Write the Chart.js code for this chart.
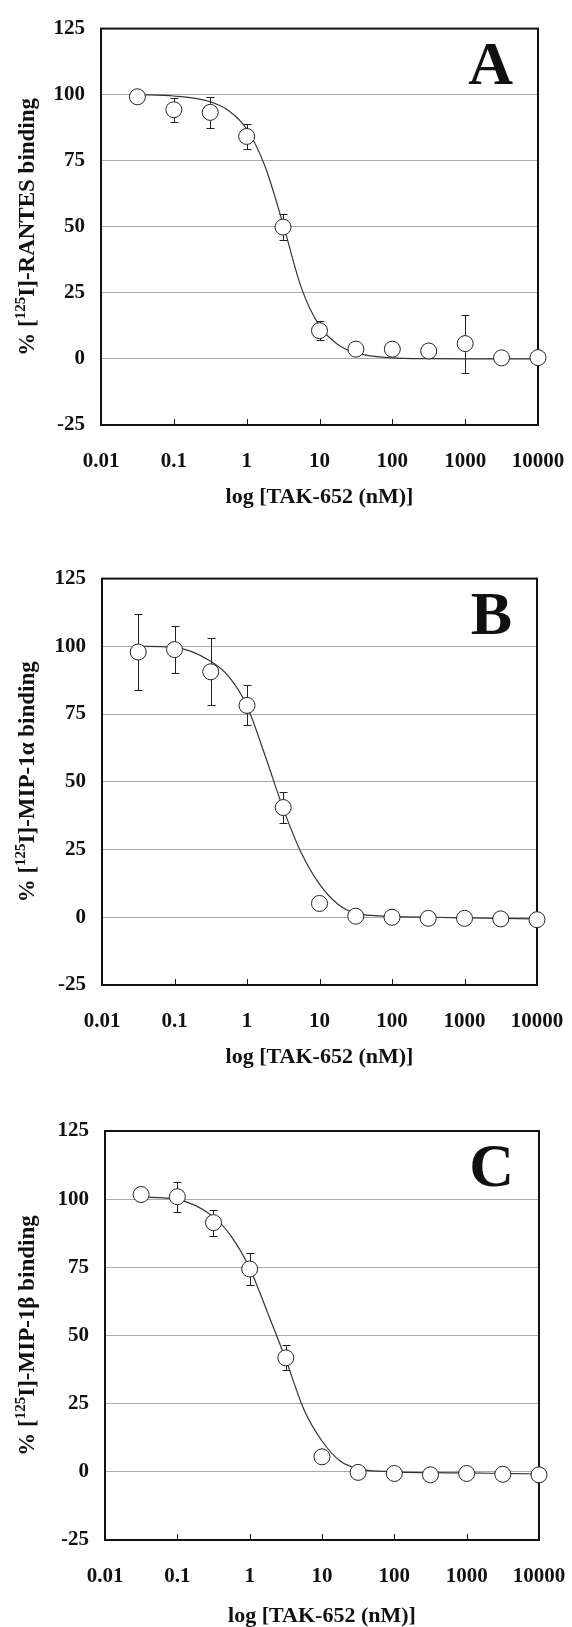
<!DOCTYPE html>
<html>
<head>
<meta charset="utf-8">
<script src="https://cdn.jsdelivr.net/npm/chart.js@4.4.0/dist/chart.umd.min.js"></script>
<style>
  html, body { margin: 0; padding: 0; background: #fff; overflow: hidden; }
  .panel { position: absolute; left: 0; width: 572px; }
</style>
</head>
<body>
<div class="panel" style="top:0px"><canvas id="panelA" width="572" height="511"></canvas></div>
<div class="panel" style="top:550px"><canvas id="panelB" width="572" height="521"></canvas></div>
<div class="panel" style="top:1100px"><canvas id="panelC" width="572" height="530"></canvas></div>
<script>
// TAK-652 concentrations (nM)
const concentrations = [0.0316, 0.1, 0.316, 1, 3.16, 10, 31.6, 100, 316, 1000, 3160, 10000];

// measured % binding and error bars
const rantesBinding = [99.2, 94.3, 93.3, 84.2, 49.9, 10.7, 3.7, 3.7, 3.0, 5.8, 0.4, 0.5];
const rantesError   = [0, 4.5, 6.0, 4.6, 4.8, 3.5, 0, 0, 0, 11.0, 0, 0];
const mip1aBinding  = [97.9, 98.8, 90.6, 78.2, 40.5, 5.1, 0.4, 0, -0.4, -0.4, -0.6, -0.9];
const mip1aError    = [14.0, 8.7, 12.4, 7.4, 5.6, 0, 0, 0, 0, 0, 0, 0];
const mip1bBinding  = [101.7, 100.9, 91.4, 74.4, 41.8, 5.5, -0.2, -0.6, -1.1, -0.6, -0.9, -1.1];
const mip1bError    = [0, 5.5, 4.8, 5.8, 4.6, 0, 0, 0, 0, 0, 0, 0];

// fitted curves
const curveX      = [0.0316, 0.1, 0.316, 0.562, 1, 1.78, 3.16, 5.62, 10, 17.8, 31.6, 100, 316, 1000, 3160, 10000];
const rantesCurve = [100, 99.5, 97.3, 94, 87, 73, 51, 27, 12.5, 5.5, 2.3, 0.4, 0.1, 0, 0, 0];
const mip1aCurve  = [100, 99.6, 94.5, 88.8, 78, 59.6, 40.1, 23.7, 12.2, 4.9, 1.5, 0.3, 0, -0.2, -0.4, -0.6];
const mip1bCurve  = [100.8, 99.9, 93.5, 86.2, 74.7, 58.2, 41.2, 22.9, 11.3, 4.0, 1.2, 0, -0.3, -0.4, -0.6, -0.8];

const xTicks = [0.01, 0.1, 1, 10, 100, 1000, 10000];
const xTickLabels = ["0.01", "0.1", "1", "10", "100", "1000", "10000"];
const yTicks = [-25, 0, 25, 50, 75, 100, 125];

const SERIF = '"Liberation Serif", "Times New Roman", serif';
const INK = '#111';

const panelDecor = {
  id: 'panelDecor',
  beforeDatasetsDraw(chart, args, o) {
    const { ctx, chartArea: a } = chart;
    const xs = chart.scales.x, ys = chart.scales.y;
    ctx.save();
    // frame
    ctx.strokeStyle = INK;
    ctx.lineWidth = 2;
    ctx.strokeRect(a.left, a.top, a.right - a.left, a.bottom - a.top);
    // inward tick marks on the x axis
    ctx.lineWidth = 1;
    ctx.beginPath();
    xTicks.slice(1, -1).forEach(v => {
      const px = Math.round(xs.getPixelForValue(v)) + 0.5;
      ctx.moveTo(px, a.bottom);
      ctx.lineTo(px, a.bottom - 6);
    });
    ctx.stroke();
    // error bars
    ctx.strokeStyle = '#222';
    ctx.beginPath();
    o.errors.forEach((e, i) => {
      if (!e) return;
      const px = Math.round(xs.getPixelForValue(concentrations[i])) + 0.5;
      const top = Math.round(ys.getPixelForValue(o.values[i] + e)) + 0.5;
      const bot = Math.round(ys.getPixelForValue(o.values[i] - e)) + 0.5;
      ctx.moveTo(px, top); ctx.lineTo(px, bot);
      ctx.moveTo(px - 4, top); ctx.lineTo(px + 4, top);
      ctx.moveTo(px - 4, bot); ctx.lineTo(px + 4, bot);
    });
    ctx.stroke();
    ctx.restore();
  },
  afterDraw(chart, args, o) {
    const { ctx, chartArea: a } = chart;
    ctx.save();
    ctx.fillStyle = INK;
    // panel letter
    ctx.font = 'bold 62px ' + SERIF;
    ctx.textAlign = 'right';
    ctx.textBaseline = 'alphabetic';
    ctx.fillText(o.letter, a.right - 25, a.top + 55);
    // y axis title with superscript
    ctx.translate(26, (a.top + a.bottom) / 2);
    ctx.rotate(-Math.PI / 2);
    const mainFont = 'bold 23px ' + SERIF, supFont = 'bold 15px ' + SERIF;
    let total = 0;
    const widths = o.yTitle.map(p => {
      ctx.font = p.sup ? supFont : mainFont;
      const w = ctx.measureText(p.text).width;
      total += w;
      return w;
    });
    let x = -total / 2;
    ctx.textAlign = 'left';
    o.yTitle.forEach((p, i) => {
      ctx.font = p.sup ? supFont : mainFont;
      ctx.fillText(p.text, x, p.sup ? -1 : 8);
      x += widths[i];
    });
    ctx.restore();
  }
};

function makePanel(id, values, errors, curve, letter, yTitle, area) {
  const canvas = document.getElementById(id);
  const H = canvas.height;
  const tickFont = { family: SERIF, size: 21, weight: 'bold' };
  return new Chart(canvas, {
    type: 'scatter',
    data: {
      datasets: [
        {
          data: concentrations.map((c, i) => ({ x: c, y: values[i] })),
          pointRadius: 8,
          pointBackgroundColor: '#fff',
          pointBorderColor: '#222',
          pointBorderWidth: 1,
          clip: false
        },
        {
          data: curveX.map((c, i) => ({ x: c, y: curve[i] })),
          showLine: true,
          pointRadius: 0,
          borderColor: '#333',
          borderWidth: 1.2,
          cubicInterpolationMode: 'monotone',
          clip: false
        }
      ]
    },
    options: {
      responsive: false,
      devicePixelRatio: 1,
      animation: false,
      layout: { padding: { left: 0, top: area.top, right: 572 - area.right, bottom: 0 } },
      plugins: {
        legend: { display: false },
        tooltip: { enabled: false },
        panelDecor: { values, errors, letter, yTitle }
      },
      scales: {
        x: {
          type: 'logarithmic',
          min: 0.01,
          max: 10000,
          afterBuildTicks: s => { s.ticks = xTicks.map(v => ({ value: v })); },
          ticks: {
            callback: (v, i) => xTickLabels[i],
            font: tickFont, color: INK, padding: 24,
            autoSkip: false, maxRotation: 0
          },
          grid: { display: false, drawTicks: false },
          border: { display: false },
          title: {
            display: true, text: 'log [TAK-652 (nM)]', color: INK,
            font: { family: SERIF, size: 22, weight: 'bold' },
            padding: { top: 0, bottom: 0 }
          },
          afterFit: s => {
            s.height = H - area.bottom;
            s.paddingLeft = 0;
            s.paddingRight = 0;
          }
        },
        y: {
          min: -25,
          max: 125,
          afterBuildTicks: s => { s.ticks = yTicks.map(v => ({ value: v })); },
          ticks: { font: tickFont, color: INK, padding: 16, callback: v => String(v) },
          grid: {
            drawTicks: false,
            lineWidth: 1,
            color: c => (c.tick && (c.tick.value === 125 || c.tick.value === -25)) ? 'rgba(0,0,0,0)' : '#a9a9a9'
          },
          border: { display: false },
          afterFit: s => { s.width = area.left; }
        }
      }
    },
    plugins: [panelDecor]
  });
}

makePanel('panelA', rantesBinding, rantesError, rantesCurve, 'A',
  [{ text: '% [' }, { text: '125', sup: true }, { text: 'I]-RANTES binding' }],
  { left: 101, top: 20, right: 538, bottom: 425 });
makePanel('panelB', mip1aBinding, mip1aError, mip1aCurve, 'B',
  [{ text: '% [' }, { text: '125', sup: true }, { text: 'I]-MIP-1α binding' }],
  { left: 102, top: 24, right: 537, bottom: 435 });
makePanel('panelC', mip1bBinding, mip1bError, mip1bCurve, 'C',
  [{ text: '% [' }, { text: '125', sup: true }, { text: 'I]-MIP-1β binding' }],
  { left: 105, top: 31, right: 539, bottom: 440 });
</script>
</body>
</html>
